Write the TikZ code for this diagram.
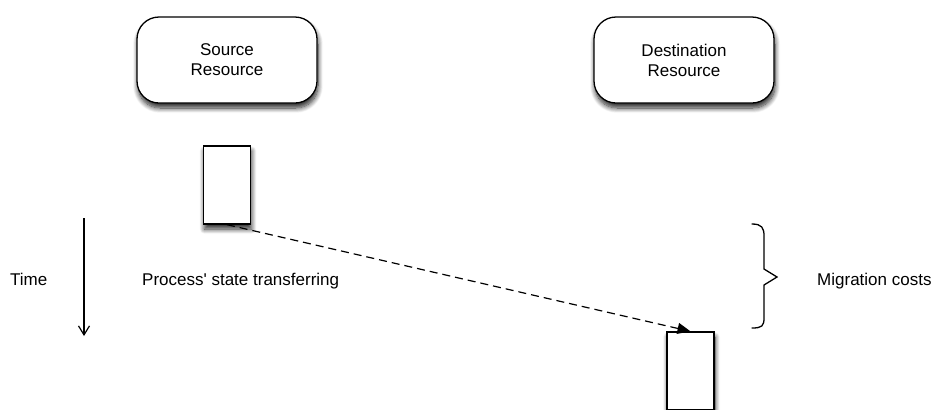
\documentclass[tikz,border=0pt]{standalone}
\usepackage{fontspec}
\setmainfont{Liberation Sans}[Ligatures=TeXOff]
\usetikzlibrary{arrows.meta,shadows.blur}
\begin{document}
\begin{tikzpicture}[x=1bp,y=-1bp,
  every node/.style={font=\fontsize{17bp}{20bp}\selectfont},
  softshadow/.style={blur shadow={shadow xshift=1bp, shadow yshift=-5bp,
      shadow blur radius=5bp, shadow blur steps=10, shadow opacity=85}},
  resource/.style={draw, line width=1.3bp, rounded corners=22bp, fill=white,
      minimum width=180bp, minimum height=86bp, align=center, softshadow},
  activation/.style={draw, line width=1.3bp, fill=white, inner sep=0pt,
      minimum width=47bp, minimum height=78bp, softshadow},
  label/.style={anchor=base west, inner sep=0pt},
  msg/.style={line width=1.2bp, dash pattern=on 8bp off 5bp,
      -{Triangle[length=13bp,width=11bp]}},
  timeline/.style={line width=1.2bp, -{Straight Barb[length=9bp,width=11bp]}},
  bracket/.style={line width=1.3bp, line cap=round, line join=miter}]
\useasboundingbox (0,0) rectangle (935,409);

% participants
\node[resource] (src) at (227,60) {Source\\Resource};
\node[resource] (dst) at (684,60) {Destination\\Resource};

% activation bars
\node[activation] (srcact) at (227,185) {};
\node[activation] (dstact) at (690.5,371) {};

% state transfer message
\draw[msg] (srcact.south) -- (dstact.north);

% time axis
\coordinate (t0) at (84,218);
\coordinate (t1) at (84,336);
\draw[timeline] (t0) -- (t1);

% brace spanning the transfer
\coordinate (b0) at (752,224);
\coordinate (btip) at (777,277);
\coordinate (b1) at (752,328);
\draw[bracket] (b0) .. controls (762,224) and (764,228) .. (764,236)
  -- (764,269) -- (btip) -- (764,285) -- (764,318)
  .. controls (764,326) and (762,328) .. (b1);

% labels
\node[label] (time) at (10,285) {Time};
\node[label] (transfer) at (142,285) {Process' state transferring};
\node[label] (costs) at (817,285) {Migration costs};
\end{tikzpicture}
\end{document}
